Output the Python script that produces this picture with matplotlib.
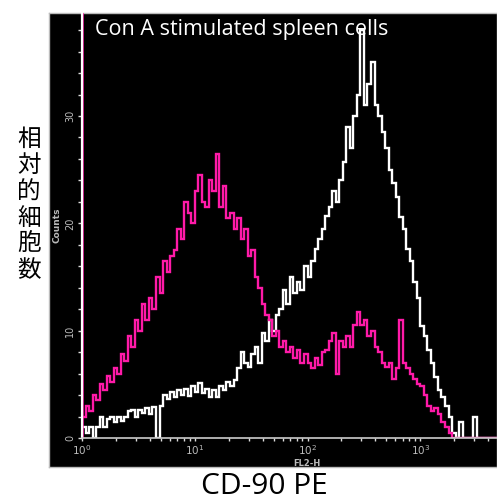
import numpy as np
import matplotlib
matplotlib.use("Agg")
import matplotlib.pyplot as plt
from matplotlib import font_manager
from matplotlib.ticker import FixedLocator, NullFormatter

# ---------------- data ----------------
bins_per_decade = 32
# white histogram (Con A stimulated, CD-90 PE) counts per bin
white_counts = [1, 0.5, 1, 0, 1, 2, 1, 1.8, 2, 1.5,
                2, 1.6, 2, 2.5, 2.6, 2, 2.6, 2.3, 2.8, 2.2,
                2.9, 0, 3, 4, 3.6, 4.3, 3.8, 4.5, 4, 4.6,
                3.9, 4.8, 4.3, 5.1, 4.2, 4.6, 3.8, 4.5, 3.8, 4.8,
                4.5, 5.2, 4.8, 5.4, 6.5, 8, 7, 6.6, 7.8, 8.5,
                7, 9.8, 9, 11, 10, 11.5, 12, 13.8, 12.5, 15,
                13.5, 14.5, 13.8, 16, 15, 16.5, 17.6, 18.5, 19.5, 20.7,
                21.5, 23, 22, 24, 25.7, 29, 27, 30, 32, 38,
                31, 33, 35, 31, 30, 28.5, 27, 25, 23.8, 22.5,
                20.6, 19.5, 17.6, 16.5, 14.5, 13, 10.4, 9.5, 8.2, 7,
                5.7, 4.5, 3.8, 3, 2, 0.5, 0, 1.5, 0, 0,
                0, 2, 0, 0, 0, 0, 0, 0]
# magenta histogram (control) counts per bin
magenta_counts = [2, 3, 2.5, 4, 3.5, 5, 4.5, 5.8, 5.2, 6.5,
                  6, 7.8, 7.2, 9.5, 8.5, 11, 10, 12.5, 11, 13,
                  12, 15, 13.5, 16.5, 15.5, 17, 17.5, 19.5, 18.5, 22,
                  21, 20, 23, 24.5, 22, 21.5, 24, 23, 26.5, 21.5,
                  23.5, 20.5, 21, 19.5, 20.5, 18.5, 19.5, 17, 17.5, 15,
                  14, 12.5, 11.5, 11, 9.5, 10, 8.5, 9, 8, 8.5,
                  7.5, 8.2, 7, 7.8, 7, 6.5, 7.5, 6.8, 8, 8.2,
                  9, 9.8, 6, 9, 8.5, 9.5, 8.5, 10.5, 11.7, 10.5,
                  11, 9.5, 10, 8.5, 8, 7, 6.6, 7, 5.5, 6.5,
                  11, 7, 6.5, 6, 5.5, 5, 4.8, 4, 3, 2.5,
                  2.8, 2.2, 1.5, 1, 0.5, 0, 0, 0, 0, 0,
                  0, 0, 0, 0, 0, 0, 0, 0]
magenta_first_channel = 150  # off-scale first channel
y_ticks = [0, 10, 20, 30]
x_ticks = [1, 10, 100, 1000]
x_ticklabels = [r"$10^0$", r"$10^1$", r"$10^2$", r"$10^3$"]
title_text = "Con A stimulated spleen cells"
x_label = "CD-90 PE"
x_sublabel = "FL2-H"
y_sublabel = "Counts"
y_label_jp = "相対的細胞数"

# ---------------- fonts ----------------
avail = {f.name for f in font_manager.fontManager.ttflist}
def pick(*names):
    for n in names:
        if n in avail:
            return n
    return "DejaVu Sans"
narrow = pick("Liberation Sans Narrow", "Open Sans", "Lato")

W, H = 497, 501
fig = plt.figure(figsize=(W / 100, H / 100), dpi=100)
fig.patch.set_facecolor("white")

# black panel
bg = fig.add_axes([49 / W, 1 - 467 / H, 448 / W, 454 / H])
bg.set_facecolor("black")
bg.set_xticks([]); bg.set_yticks([])
for s in bg.spines.values():
    s.set_color("#bbbbbb"); s.set_linewidth(1)

ax = fig.add_axes([82 / W, 1 - 438 / H, 415 / W, 425 / H])
ax.set_facecolor("none")
ax.set_xscale("log")
ax.set_xlim(1, 10 ** 3.68)
ax.set_ylim(0, 39.6)

n = len(white_counts)
edges = 10 ** (np.arange(n + 1) / bins_per_decade)
ax.stairs(white_counts, edges, baseline=None, color="white", lw=1.7)
ax.stairs(magenta_counts, edges, baseline=None, color="#ff1aa8", lw=1.7)
ax.plot([1, 1], [0, magenta_first_channel], color="#ff1aa8", lw=1.8, clip_on=True)

for side in ("top", "right"):
    ax.spines[side].set_visible(False)
ax.spines["left"].set_color("white"); ax.spines["left"].set_linewidth(1.6)
ax.spines["bottom"].set_color("#cccccc"); ax.spines["bottom"].set_linewidth(1.2)

ax.yaxis.set_major_locator(FixedLocator(y_ticks))
ax.yaxis.set_minor_locator(FixedLocator(np.arange(0, 40, 2)))
ax.set_yticklabels([str(v) for v in y_ticks], rotation=90, va="center",
                   color="#bbbbbb", fontsize=7)
ax.tick_params(axis="y", which="both", colors="#dddddd", length=3, width=1, pad=2)
ax.tick_params(axis="y", labelcolor="#bbbbbb")

ax.xaxis.set_major_locator(FixedLocator(x_ticks))
minors = [m * 10 ** d for d in range(0, 4) for m in range(2, 10)]
ax.xaxis.set_minor_locator(FixedLocator(minors))
ax.xaxis.set_minor_formatter(NullFormatter())
ax.set_xticklabels(x_ticklabels, color="#bbbbbb", fontsize=7.5)
ax.tick_params(axis="x", which="both", colors="#dddddd", length=2.5, width=1, pad=1.5)
ax.tick_params(axis="x", labelcolor="#bbbbbb")

fig.text(307 / W, 1 - 464 / H, x_sublabel, color="#bbbbbb", fontsize=6,
         fontweight="bold", ha="center", va="center")
fig.text(57 / W, 1 - 225 / H, y_sublabel, color="#bbbbbb", fontsize=6.5,
         fontweight="bold", ha="center", va="center", rotation=90)

fig.text(95 / W, 1 - 35 / H, title_text, color="white", fontsize=15.5,
         family=narrow, ha="left", va="baseline")
fig.text(264 / W, 1 - 494 / H, x_label, color="black", fontsize=21.5,
         family=narrow, ha="center", va="baseline")
fig.text(29 / W, 1 - 205 / H, "\n".join(y_label_jp), color="black", fontsize=17,
         family=["Noto Sans CJK JP", "DejaVu Sans"], ha="center", va="center",
         linespacing=1.17)

fig.savefig("out.png", dpi=100, facecolor="white")
